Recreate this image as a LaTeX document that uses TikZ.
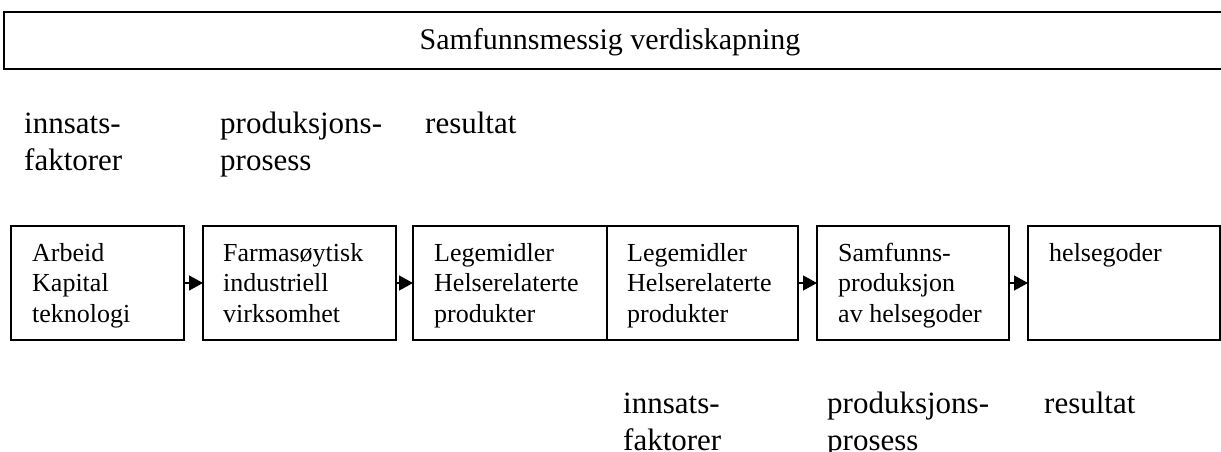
\documentclass[tikz,border=0pt]{standalone}
\usepackage{fontspec}
\setmainfont{Liberation Serif}
\usetikzlibrary{arrows.meta}
\begin{document}
\begin{tikzpicture}[x=1pt,y=-1pt,
  box/.style={draw, line width=1.3pt, inner sep=0pt, outer sep=0pt, anchor=north west, minimum height=114pt},
  boxtext/.style={anchor=north west, inner sep=0pt, align=left, font=\fontsize{26}{30.5}\selectfont},
  lbl/.style={anchor=north west, inner sep=0pt, align=left, font=\fontsize{31}{37}\selectfont},
  flow/.style={line width=1.3pt, -{Triangle[length=14pt,width=15pt]}}]
\useasboundingbox (0,0) rectangle (1221,452);
% top frame
\draw[line width=2pt] (1223,12) -- (4,12) -- (4,69) -- (1223,69);
\node[anchor=base, inner sep=0pt, font=\fontsize{30}{36}\selectfont] (title) at (610,50) {Samfunnsmessig verdiskapning};
% upper labels
\node[lbl] (u1) at (24,107.1) {\strut innsats-\\faktorer};
\node[lbl] (u2) at (220,107.1) {\strut produksjons-\\prosess};
\node[lbl] (u3) at (425,107.1) {\strut resultat};
% boxes
\node[box, minimum width=173pt] (b1) at (11,226) {};
\node[box, minimum width=193pt] (b2) at (203,226) {};
\node[box, minimum width=194pt] (b3) at (413,226) {};
\node[box, minimum width=191pt] (b4) at (607,226) {};
\node[box, minimum width=192pt] (b5) at (817,226) {};
\node[box, minimum width=192pt] (b6) at (1028,226) {};
% box texts
\node[boxtext] (t1) at (32,239.65) {\strut Arbeid\\Kapital\\teknologi};
\node[boxtext] (t2) at (223,239.65) {\strut Farmasøytisk\\industriell\\virksomhet};
\node[boxtext] (t3) at (434,239.65) {\strut Legemidler\\Helserelaterte\\produkter};
\node[boxtext] (t4) at (627,239.65) {\strut Legemidler\\Helserelaterte\\produkter};
\node[boxtext] (t5) at (838,239.65) {\strut Samfunns-\\produksjon\\av helsegoder};
\node[boxtext] (t6) at (1049,239.65) {\strut helsegoder};
% arrows
\draw[flow] (b1) -- (b2);
\draw[flow] (b2) -- (b3);
\draw[flow] (b4) -- (b5);
\draw[flow] (b5) -- (b6);
% lower labels
\node[lbl] (l1) at (623,387.1) {\strut innsats-\\faktorer};
\node[lbl] (l2) at (827,387.1) {\strut produksjons-\\prosess};
\node[lbl] (l3) at (1044,387.1) {\strut resultat};
\end{tikzpicture}
\end{document}
